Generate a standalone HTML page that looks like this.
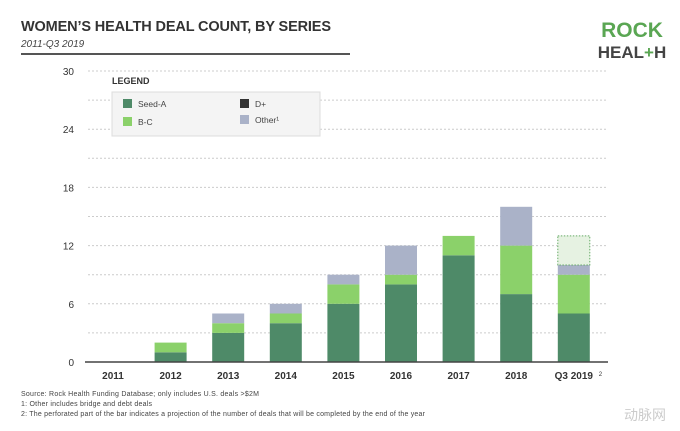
<!DOCTYPE html>
<html><head><meta charset="utf-8"><style>
body{margin:0;background:#fff;font-family:"Liberation Sans",sans-serif;}
#wrap{position:relative;width:680px;height:431px;overflow:hidden;background:#fff}
</style></head><body>
<div id="wrap">
<svg id="chart" width="680" height="431">
<text x="21" y="31" font-size="14.5" font-weight="bold" fill="#333" textLength="310">WOMEN’S HEALTH DEAL COUNT, BY SERIES</text>
<text x="21" y="47" font-size="10" font-style="italic" fill="#444">2011-Q3 2019</text>
<line x1="21" y1="54" x2="350" y2="54" stroke="#555" stroke-width="2"/>
<text x="632" y="37" font-size="21" font-weight="bold" fill="#5aa653" text-anchor="middle">ROCK</text>
<text x="632" y="58" font-size="17" font-weight="bold" fill="#444" text-anchor="middle">HEAL<tspan fill="#5aa653">+</tspan>H</text>
<g id="grid"></g>
<g id="bars"></g>
<g id="xlabels"></g>
<g>
<text x="112" y="84" font-size="9" font-weight="bold" fill="#333">LEGEND</text>
<rect x="112" y="92" width="208" height="44" fill="#f4f4f4" stroke="#ddd"/>
<rect x="123" y="99" width="9" height="9" fill="#4e8a68"/>
<text x="138" y="107" font-size="8.5" fill="#444">Seed-A</text>
<rect x="123" y="117" width="9" height="9" fill="#8bd16a"/>
<text x="138" y="125" font-size="8.5" fill="#444">B-C</text>
<rect x="240" y="99" width="9" height="9" fill="#333"/>
<text x="255" y="107" font-size="8.5" fill="#444">D+</text>
<rect x="240" y="115" width="9" height="9" fill="#aab2c8"/>
<text x="255" y="123" font-size="8.5" fill="#444">Other¹</text>
</g>
<text x="21" y="396" font-size="7" fill="#444" textLength="238">Source: Rock Health Funding Database; only includes U.S. deals &gt;$2M</text>
<text x="21" y="406" font-size="7" fill="#444" textLength="131">1: Other includes bridge and debt deals</text>
<text x="21" y="416" font-size="7" fill="#444" textLength="404">2: The perforated part of the bar indicates a projection of the number of deals that will be completed by the end of the year</text>
<text x="645" y="420" font-size="14" fill="#ccc" text-anchor="middle" font-family="Liberation Sans, Noto Sans CJK SC, sans-serif">动脉网</text>
</svg>
</div>
<script>
const categories=["2011","2012","2013","2014","2015","2016","2017","2018","Q3 2019"];
const seedA=[0,1,3,4,6,8,11,7,5];
const bC=[0,1,1,1,2,1,2,5,4];
const dPlus=[0,0,0,0,0,0,0,0,0];
const other=[0,0,1,1,1,3,0,4,1];
const projected=[0,0,0,0,0,0,0,0,3];
const yTicks=[0,6,12,18,24,30];
const NS="http://www.w3.org/2000/svg";
const y0=362,yTop=71,yMax=30;
function y(v){return y0-(v/yMax)*(y0-yTop);}
function x(i){return 113+i*57.6;}
const grid=document.getElementById('grid');
for(let v=3;v<=30;v+=3){
 const l=document.createElementNS(NS,'line');
 l.setAttribute('x1',88);l.setAttribute('x2',608);l.setAttribute('y1',y(v));l.setAttribute('y2',y(v));
 l.setAttribute('stroke','#ccc');l.setAttribute('stroke-dasharray','2,2');l.setAttribute('stroke-width','1');
 
 
 grid.appendChild(l);
}
yTicks.forEach(v=>{
 const t=document.createElementNS(NS,'text');
 t.setAttribute('x',74);t.setAttribute('y',y(v)+4);t.setAttribute('font-size','10');t.setAttribute('fill','#333');t.setAttribute('text-anchor','end');
 t.textContent=v;
 
 
 grid.appendChild(t);
});
const bars=document.getElementById('bars');
const series=[[seedA,'#4e8a68','seed-a'],[bC,'#8bd16a','b-c'],[dPlus,'#333','d-plus'],[other,'#aab2c8','other']];
categories.forEach((c,i)=>{
 let base=0;
 series.forEach(([arr,col,nm])=>{
  const v=arr[i];if(!v)return;
  const r=document.createElementNS(NS,'rect');
  r.setAttribute('x',x(i)-16);r.setAttribute('width',32);
  r.setAttribute('y',y(base+v));r.setAttribute('height',y(base)-y(base+v));
  r.setAttribute('fill',col);
  
  
  bars.appendChild(r);base+=v;
 });
 if(projected[i]){
  const r=document.createElementNS(NS,'rect');
  r.setAttribute('x',x(i)-16);r.setAttribute('width',32);
  r.setAttribute('y',y(base+projected[i]));r.setAttribute('height',y(base)-y(base+projected[i]));
  r.setAttribute('fill','#e6f2e2');r.setAttribute('stroke','#6a6');r.setAttribute('stroke-dasharray','1.5,1.5');
  
  
  bars.appendChild(r);
 }
 const t=document.createElementNS(NS,'text');
 t.setAttribute('x',x(i));t.setAttribute('y',379);t.setAttribute('font-size','10');t.setAttribute('font-weight','bold');
 t.setAttribute('fill','#333');t.setAttribute('text-anchor','middle');
 t.textContent=c;
 
 
 document.getElementById('xlabels').appendChild(t);
});
const sup=document.createElementNS(NS,'text');
sup.setAttribute('x',x(8)+25);sup.setAttribute('y',376);sup.setAttribute('font-size','6');sup.setAttribute('fill','#333');sup.textContent='2';


document.getElementById('xlabels').appendChild(sup);
const ax=document.createElementNS(NS,'line');
ax.setAttribute('x1',85);ax.setAttribute('x2',608);ax.setAttribute('y1',y0);ax.setAttribute('y2',y0);ax.setAttribute('stroke','#444');ax.setAttribute('stroke-width','1.5');


bars.appendChild(ax);
</script>
</body></html>
